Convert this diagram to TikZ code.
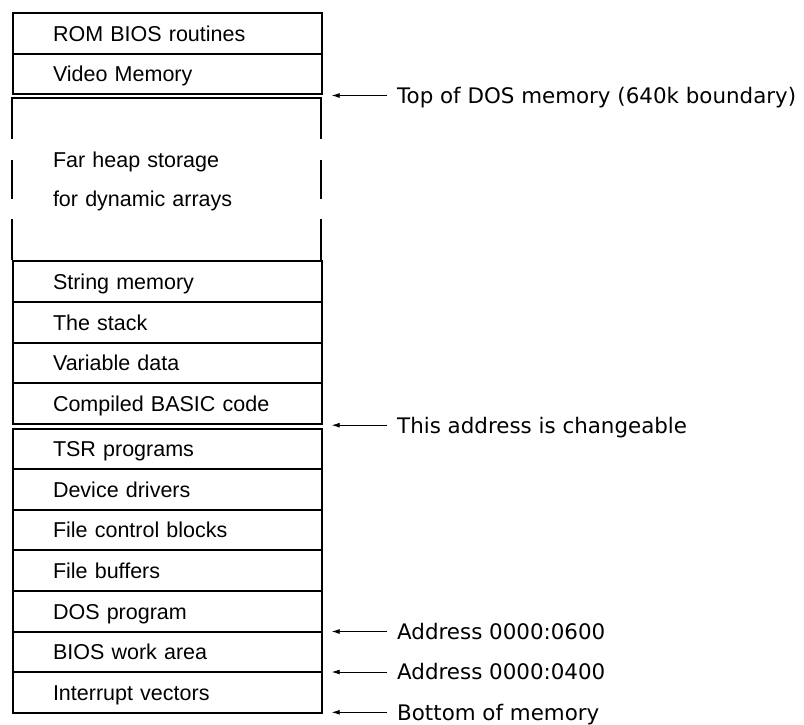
\documentclass[tikz,border=0pt]{standalone}
\usepackage{fontspec}
\setmainfont{Liberation Sans}
\newfontfamily\notefont{DejaVu Sans}
\usetikzlibrary{arrows.meta}
\begin{document}
\begin{tikzpicture}[x=1pt,y=-1pt,
  cell/.style={draw, line width=2pt, rectangle, anchor=north west,
    minimum width=309pt, minimum height=40.65pt,
    inner xsep=40pt, inner ysep=0pt, text width=229pt, align=left,
    text height=15.4pt, text depth=0pt,
    font=\fontsize{21.5}{25}\selectfont},
  plain/.style={cell, draw=none},
  note/.style={anchor=west, inner sep=0pt,
    font=\notefont\fontsize{21.4}{25}\selectfont,
    text height=15.6pt, text depth=0pt},
  pointer/.style={-{Latex[length=8pt,width=5pt]}, line width=0.9pt},
  wall/.style={line width=2pt}]
\useasboundingbox (0,0) rectangle (804,724);

% upper memory
\node[cell] (rom)   at (12,12)    {ROM BIOS routines};
\node[cell] (video) at (12,52.65) {Video Memory};

% far heap region with broken side walls
\node[plain] (heapA) at (12,138.2) {Far heap storage};
\node[plain] (heapB) at (12,177.4) {for dynamic arrays};
\draw[wall] (11,97.8) -- (322,97.8);
\foreach \x in {12,321} {
  \draw[wall] (\x,97.8) -- (\x,139.3);
  \draw[wall] (\x,160)  -- (\x,199);
  \draw[wall] (\x,219)  -- (\x,260.4);
}

% BASIC program area
\node[cell] (strmem)   at (12,260.4)  {String memory};
\node[cell] (stack)    at (12,301.05) {The stack};
\node[cell] (vardata)  at (12,341.7)  {Variable data};
\node[cell] (compiled) at (12,382.35) {Compiled BASIC code};

% DOS area
\node[cell] (tsr)     at (12,427.5)  {TSR programs};
\node[cell] (drivers) at (12,468.15) {Device drivers};
\node[cell] (fcb)     at (12,508.8)  {File control blocks};
\node[cell] (fbuf)    at (12,549.45) {File buffers};
\node[cell] (dos)     at (12,590.1)  {DOS program};
\node[cell] (bioswa)  at (12,630.75) {BIOS work area};
\node[cell] (ivec)    at (12,671.4)  {Interrupt vectors};

% boundary annotations
\coordinate (p1) at (331.7,95.5);
\coordinate (p2) at (331.7,425.2);
\coordinate (p3) at (331.7,631.5);
\coordinate (p4) at (331.7,672);
\coordinate (p5) at (331.7,712.3);
\node[note] (n1) at (397,95.5)  {Top of DOS memory (640k boundary)};
\node[note] (n2) at (397,425.2) {This address is changeable};
\node[note] (n3) at (397,631.5) {Address 0000:0600};
\node[note] (n4) at (397,672)   {Address 0000:0400};
\node[note] (n5) at (397,712.3) {Bottom of memory};
\foreach \i in {1,...,5}
  \draw[pointer] ([xshift=-10pt]n\i.west) -- (p\i);
\end{tikzpicture}
\end{document}
